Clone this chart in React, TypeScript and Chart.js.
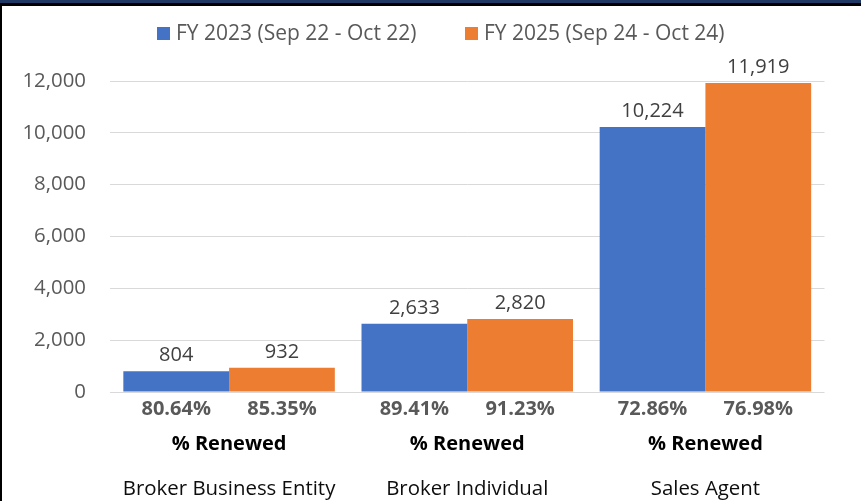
import React, { useEffect, useRef } from "react";
import { Chart, registerables } from "chart.js";

Chart.register(...registerables);

const categories = ["Broker Business Entity", "Broker Individual", "Sales Agent"];
const seriesNames = ["FY 2023 (Sep 22 - Oct 22)", "FY 2025 (Sep 24 - Oct 24)"];
const fy2023Values = [804, 2633, 10224];
const fy2025Values = [932, 2820, 11919];
const fy2023Renewed = [80.64, 89.41, 72.86];
const fy2025Renewed = [85.35, 91.23, 76.98];
const renewedLabel = "% Renewed";
const yMin = 0;
const yMax = 12000;
const yStep = 2000;

const BLUE = "#4472C4";
const ORANGE = "#ED7D31";
const FONT = '"Open Sans", "DejaVu Sans", sans-serif';

const labelsPlugin = {
  id: "customLabels",
  afterDatasetsDraw(chart: any) {
    const ctx = chart.ctx;
    const renewed = [fy2023Renewed, fy2025Renewed];
    const bottom = chart.chartArea.bottom;
    ctx.save();
    ctx.textAlign = "center";
    ctx.textBaseline = "alphabetic";
    chart.data.datasets.forEach((ds: any, di: number) => {
      const meta = chart.getDatasetMeta(di);
      meta.data.forEach((bar: any, i: number) => {
        const v = ds.data[i] as number;
        ctx.font = `20px ${FONT}`;
        ctx.fillStyle = "#404040";
        ctx.fillText(v.toLocaleString("en-US"), bar.x, bar.y - 10);
        ctx.font = `bold 20px ${FONT}`;
        ctx.fillStyle = "#595959";
        ctx.fillText(renewed[di][i].toFixed(2) + "%", bar.x, bottom + 23);
      });
    });
    const xs = chart.scales.x;
    categories.forEach((c, i) => {
      const x = xs.getPixelForValue(i);
      ctx.font = `bold 20px ${FONT}`;
      ctx.fillStyle = "#000000";
      ctx.fillText(renewedLabel, x, bottom + 58);
      ctx.font = `20.4px ${FONT}`;
      ctx.fillStyle = "#0d0d0d";
      ctx.fillText(c, x, bottom + 103);
    });
    ctx.restore();
  },
};

export default function App() {
  const ref = useRef<HTMLCanvasElement | null>(null);

  useEffect(() => {
    if (!ref.current) return;
    const chart = new Chart(ref.current, {
      type: "bar",
      data: {
        labels: categories,
        datasets: [
          {
            label: seriesNames[0],
            data: fy2023Values,
            backgroundColor: BLUE,
            borderWidth: 0,
            categoryPercentage: 0.888,
            barPercentage: 1,
          },
          {
            label: seriesNames[1],
            data: fy2025Values,
            backgroundColor: ORANGE,
            borderWidth: 0,
            categoryPercentage: 0.888,
            barPercentage: 1,
          },
        ],
      },
      options: {
        animation: false,
        responsive: false,
        devicePixelRatio: 1,
        layout: { padding: { left: 0, right: 36.5, top: 81, bottom: 0 } },
        plugins: {
          legend: { display: false },
          tooltip: { enabled: false },
        },
        scales: {
          x: {
            grid: { display: false },
            border: { display: false },
            ticks: { display: false },
            afterFit: (scale: any) => {
              scale.height = 109;
            },
          },
          y: {
            min: yMin,
            max: yMax,
            grid: { color: "#d9d9d9", lineWidth: 1, drawTicks: false },
            border: { display: false },
            ticks: {
              stepSize: yStep,
              padding: 24,
              color: "#595959",
              font: { family: FONT, size: 20.4 },
              callback: (v: any) => Number(v).toLocaleString("en-US"),
            },
            afterFit: (scale: any) => {
              scale.width = 110;
            },
          },
        },
      },
      plugins: [labelsPlugin],
    });
    return () => chart.destroy();
  }, []);

  const legendText: React.CSSProperties = {
    position: "absolute",
    top: 22,
    fontFamily: FONT,
    fontSize: 21,
    lineHeight: "21px",
    color: "#595959",
    whiteSpace: "nowrap",
  };
  const box: React.CSSProperties = { position: "absolute", top: 27, width: 13, height: 13 };

  return (
    <div
      style={{
        position: "fixed",
        top: 0,
        left: 0,
        width: 861,
        height: 501,
        background: "#ffffff",
        overflow: "hidden",
      }}
    >
      <canvas ref={ref} width={861} height={501} style={{ display: "block", width: 861, height: 501 }} />
      <div style={{ ...box, left: 157, background: BLUE }} />
      <div style={{ ...legendText, left: 176 }}>{seriesNames[0]}</div>
      <div style={{ ...box, left: 465, background: ORANGE }} />
      <div style={{ ...legendText, left: 484 }}>{seriesNames[1]}</div>
      <div style={{ position: "absolute", top: 0, left: 0, width: 861, height: 3, background: "#1f3864" }} />
      <div style={{ position: "absolute", top: 3, left: 0, width: 861, height: 3, background: "#000000" }} />
      <div style={{ position: "absolute", top: 3, left: 0, width: 2, height: 498, background: "#000000" }} />
    </div>
  );
}
